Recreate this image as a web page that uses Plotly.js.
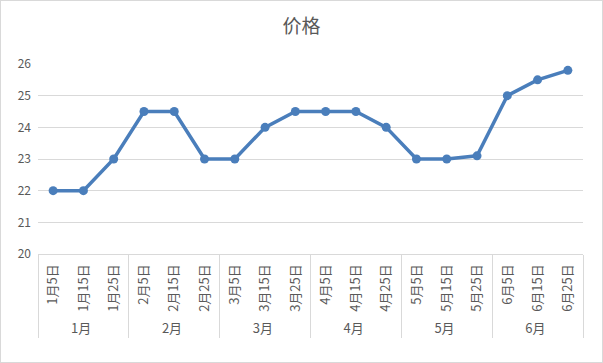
<!DOCTYPE html>
<html>
<head>
<meta charset="utf-8">
<script src="https://cdn.plot.ly/plotly-3.0.1.min.js"></script>
<style>
html,body{margin:0;padding:0;background:#fff;}
#chart{width:601px;height:361px;border:1px solid #d9d9d9;}
</style>
</head>
<body>
<div id="chart"></div>
<script>
const months = ["1月","1月","1月","2月","2月","2月","3月","3月","3月","4月","4月","4月","5月","5月","5月","6月","6月","6月"];
const days = ["1月5日","1月15日","1月25日","2月5日","2月15日","2月25日","3月5日","3月15日","3月25日","4月5日","4月15日","4月25日","5月5日","5月15日","5月25日","6月5日","6月15日","6月25日"];
const prices = [22,22,23,24.5,24.5,23,23,24,24.5,24.5,24.5,24,23,23,23.1,25,25.5,25.8];

const font = "Noto Sans CJK SC, sans-serif";
Plotly.newPlot("chart", [{
  type: "scatter",
  mode: "lines+markers",
  x: [months, days],
  y: prices,
  line: {color: "#4a7ebb", width: 3.5},
  marker: {color: "#4a7ebb", size: 9}
}], {
  width: 601, height: 361,
  margin: {l: 37, r: 19, t: 63, b: 108},
  paper_bgcolor: "#fff", plot_bgcolor: "#fff",
  showlegend: false,
  title: {text: "价格", font: {family: font, size: 19, color: "#595959"}, x: 0.5, xanchor: "center", y: 0.93, yanchor: "middle"},
  xaxis: {
    type: "multicategory",
    tickangle: -90,
    tickfont: {family: font, size: 13, color: "#595959"},
    showline: true, linecolor: "#d9d9d9", linewidth: 1,
    showgrid: false,
    ticks: "",
    showdividers: true, dividercolor: "#d9d9d9", dividerwidth: 1,
    ticklabelstandoff: 4,
    range: [-0.5, 17.5]
  },
  yaxis: {
    range: [20, 26],
    dtick: 1,
    tickfont: {family: font, size: 12, color: "#595959"},
    gridcolor: "#d9d9d9", gridwidth: 1,
    zeroline: false, showline: false, ticks: "",
    ticklabelstandoff: 6
  }
}, {displayModeBar: false, staticPlot: true});
</script>
</body>
</html>
